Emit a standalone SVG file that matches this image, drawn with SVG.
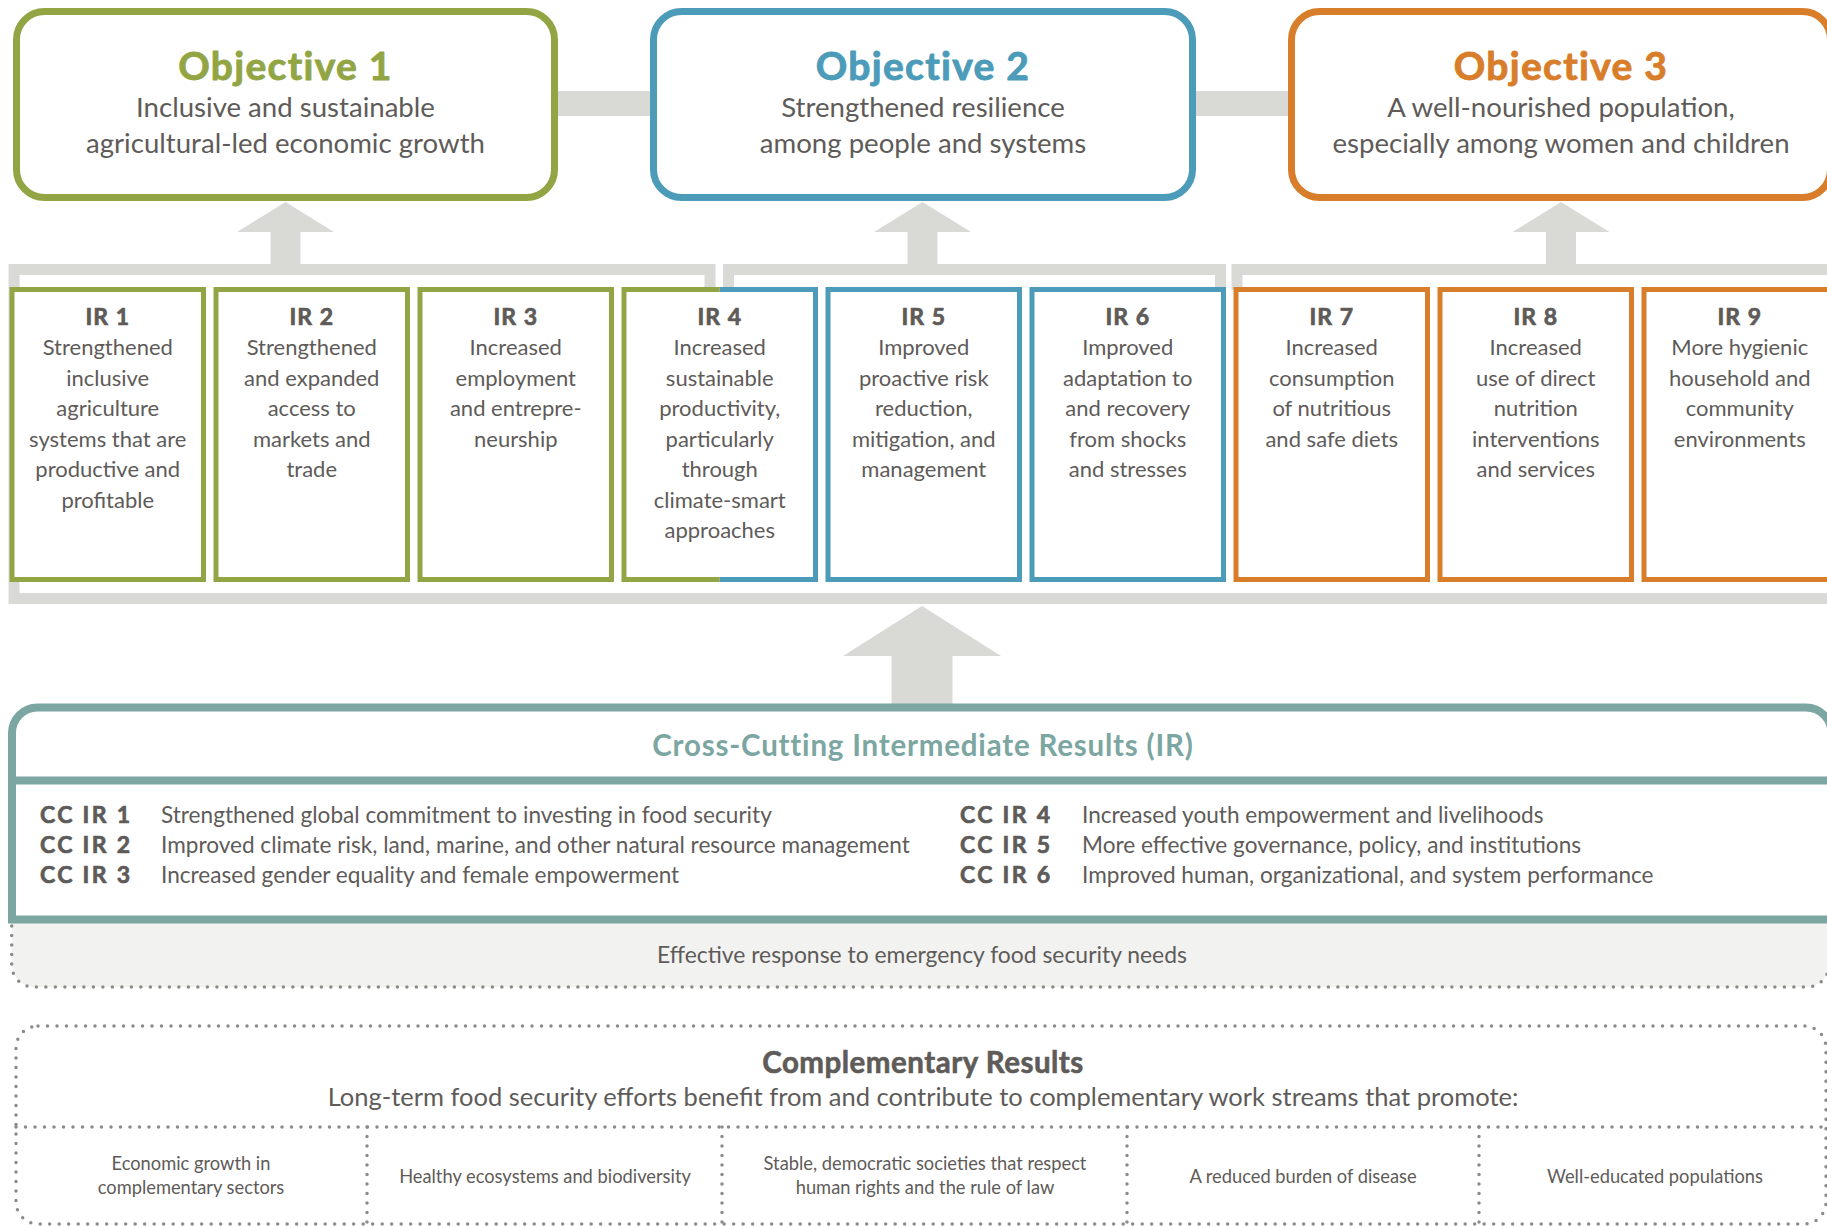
<svg xmlns="http://www.w3.org/2000/svg" width="1827" height="1227" viewBox="0 0 1827 1227">
<style>
  text { font-family: Lato, 'Open Sans', 'Liberation Sans', sans-serif; fill: #5e5b59; }
  .heavy { stroke-width: 0.7px; stroke-linejoin: round; }
  .objbox { fill: #ffffff; stroke-width: 7; }
  .objtitle { font-size: 39px; font-weight: 700; text-anchor: middle; letter-spacing: 1.3px; stroke-width: 0.9px; stroke-linejoin: round; }
  .objsub { font-size: 27.6px; text-anchor: middle; }
  .irbox { fill: #ffffff; stroke-width: 5; }
  .irhead { font-size: 23px; font-weight: 700; text-anchor: middle; letter-spacing: 1px; stroke: #5e5b59; }
  .irtxt { font-size: 22px; text-anchor: middle; }
  .green { stroke: #92a545; }
  .blue { stroke: #4b9bb9; }
  .orange { stroke: #d87e2b; }
  .tgreen { fill: #92a545; stroke: #92a545; }
  .tblue { fill: #4b9bb9; stroke: #4b9bb9; }
  .torange { fill: #d87e2b; stroke: #d87e2b; }
  .bracket { fill: none; stroke: #d9dad5; stroke-width: 11; stroke-linejoin: miter; }
  .garrow { fill: #d9dad5; }
  .teal { fill: none; stroke: #7ca6a1; stroke-width: 8; }
  .cclab { font-size: 23px; font-weight: 700; letter-spacing: 2.3px; stroke: #5e5b59; }
  .cctxt { font-size: 22.6px; }
  .dots { fill: none; stroke: #8d8b89; stroke-width: 3.5; stroke-linecap: round; stroke-dasharray: 0 9.5; }
  .cell { font-size: 18.3px; text-anchor: middle; }
</style>

<g id="connectors">
  <rect x="285" y="91" width="1276" height="25" class="garrow"/>
  <path class="bracket" d="M710,290 V269.5 H14 V598.5 H1835"/>
  <path class="bracket" d="M728.5,290 V269.5 H1220.5 V290"/>
  <path class="bracket" d="M1237,290 V269.5 H1835"/>
  <polygon class="garrow" points="285.5,202 334,232 300.5,232 300.5,266 270.5,266 270.5,232 237,232"/>
  <polygon class="garrow" points="922.5,202 971,232 937.5,232 937.5,266 907.5,266 907.5,232 874,232"/>
  <polygon class="garrow" points="1561,202 1609.5,232 1576,232 1576,266 1546,266 1546,232 1512.5,232"/>
  <polygon class="garrow" points="922,606 1001,656 952.5,656 952.5,705 891.5,705 891.5,656 843,656"/>
</g>

<g id="objective1">
  <rect class="objbox green" x="16.5" y="11.5" width="538" height="186" rx="28"/>
  <text class="objtitle tgreen" x="285.5" y="80">Objective 1</text>
  <text class="objsub" x="285.5" y="117">Inclusive and sustainable</text>
  <text class="objsub" x="285.5" y="153">agricultural-led economic growth</text>
</g>
<g id="objective2">
  <rect class="objbox blue" x="653.5" y="11.5" width="539" height="186" rx="28"/>
  <text class="objtitle tblue" x="923" y="80">Objective 2</text>
  <text class="objsub" x="923" y="117">Strengthened resilience</text>
  <text class="objsub" x="923" y="153">among people and systems</text>
</g>
<g id="objective3">
  <rect class="objbox orange" x="1291.5" y="11.5" width="539" height="186" rx="28"/>
  <text class="objtitle torange" x="1561" y="80">Objective 3</text>
  <text class="objsub" x="1561" y="117">A well-nourished population,</text>
  <text class="objsub" x="1561" y="153">especially among women and children</text>
</g>

<g id="ir1">
  <rect class="irbox green" x="12" y="289.5" width="191.5" height="290"/>
  <text class="irhead heavy" x="107.75" y="325">IR 1</text>
  <text class="irtxt" x="107.75" y="355">Strengthened</text>
  <text class="irtxt" x="107.75" y="385.5">inclusive</text>
  <text class="irtxt" x="107.75" y="416">agriculture</text>
  <text class="irtxt" x="107.75" y="446.5">systems that are</text>
  <text class="irtxt" x="107.75" y="477">productive and</text>
  <text class="irtxt" x="107.75" y="507.5">profitable</text>
</g>
<g id="ir2">
  <rect class="irbox green" x="216" y="289.5" width="191.5" height="290"/>
  <text class="irhead heavy" x="311.75" y="325">IR 2</text>
  <text class="irtxt" x="311.75" y="355">Strengthened</text>
  <text class="irtxt" x="311.75" y="385.5">and expanded</text>
  <text class="irtxt" x="311.75" y="416">access to</text>
  <text class="irtxt" x="311.75" y="446.5">markets and</text>
  <text class="irtxt" x="311.75" y="477">trade</text>
</g>
<g id="ir3">
  <rect class="irbox green" x="420" y="289.5" width="191.5" height="290"/>
  <text class="irhead heavy" x="515.75" y="325">IR 3</text>
  <text class="irtxt" x="515.75" y="355">Increased</text>
  <text class="irtxt" x="515.75" y="385.5">employment</text>
  <text class="irtxt" x="515.75" y="416">and entrepre-</text>
  <text class="irtxt" x="515.75" y="446.5">neurship</text>
</g>
<g id="ir4">
  <rect x="624" y="289.5" width="191.5" height="290" fill="#ffffff"/>
  <path class="green" fill="none" stroke-width="5" d="M719.75,289.5 H624 V579.5 H719.75"/>
  <path class="blue" fill="none" stroke-width="5" d="M719.75,289.5 H815.5 V579.5 H719.75"/>
  <text class="irhead heavy" x="719.75" y="325">IR 4</text>
  <text class="irtxt" x="719.75" y="355">Increased</text>
  <text class="irtxt" x="719.75" y="385.5">sustainable</text>
  <text class="irtxt" x="719.75" y="416">productivity,</text>
  <text class="irtxt" x="719.75" y="446.5">particularly</text>
  <text class="irtxt" x="719.75" y="477">through</text>
  <text class="irtxt" x="719.75" y="507.5">climate-smart</text>
  <text class="irtxt" x="719.75" y="538">approaches</text>
</g>
<g id="ir5">
  <rect class="irbox blue" x="828" y="289.5" width="191.5" height="290"/>
  <text class="irhead heavy" x="923.75" y="325">IR 5</text>
  <text class="irtxt" x="923.75" y="355">Improved</text>
  <text class="irtxt" x="923.75" y="385.5">proactive risk</text>
  <text class="irtxt" x="923.75" y="416">reduction,</text>
  <text class="irtxt" x="923.75" y="446.5">mitigation, and</text>
  <text class="irtxt" x="923.75" y="477">management</text>
</g>
<g id="ir6">
  <rect class="irbox blue" x="1032" y="289.5" width="191.5" height="290"/>
  <text class="irhead heavy" x="1127.75" y="325">IR 6</text>
  <text class="irtxt" x="1127.75" y="355">Improved</text>
  <text class="irtxt" x="1127.75" y="385.5">adaptation to</text>
  <text class="irtxt" x="1127.75" y="416">and recovery</text>
  <text class="irtxt" x="1127.75" y="446.5">from shocks</text>
  <text class="irtxt" x="1127.75" y="477">and stresses</text>
</g>
<g id="ir7">
  <rect class="irbox orange" x="1236" y="289.5" width="191.5" height="290"/>
  <text class="irhead heavy" x="1331.75" y="325">IR 7</text>
  <text class="irtxt" x="1331.75" y="355">Increased</text>
  <text class="irtxt" x="1331.75" y="385.5">consumption</text>
  <text class="irtxt" x="1331.75" y="416">of nutritious</text>
  <text class="irtxt" x="1331.75" y="446.5">and safe diets</text>
</g>
<g id="ir8">
  <rect class="irbox orange" x="1440" y="289.5" width="191.5" height="290"/>
  <text class="irhead heavy" x="1535.75" y="325">IR 8</text>
  <text class="irtxt" x="1535.75" y="355">Increased</text>
  <text class="irtxt" x="1535.75" y="385.5">use of direct</text>
  <text class="irtxt" x="1535.75" y="416">nutrition</text>
  <text class="irtxt" x="1535.75" y="446.5">interventions</text>
  <text class="irtxt" x="1535.75" y="477">and services</text>
</g>
<g id="ir9">
  <rect class="irbox orange" x="1644" y="289.5" width="191.5" height="290"/>
  <text class="irhead heavy" x="1739.75" y="325">IR 9</text>
  <text class="irtxt" x="1739.75" y="355">More hygienic</text>
  <text class="irtxt" x="1739.75" y="385.5">household and</text>
  <text class="irtxt" x="1739.75" y="416">community</text>
  <text class="irtxt" x="1739.75" y="446.5">environments</text>
</g>

<g id="emergency">
  <path fill="#f2f2f1" d="M12,923 V965 A22,22 0 0 0 34,987 H1807 A22,22 0 0 0 1829,965 V923 Z"/>
  <path class="dots" d="M11.7,926 V965 A22,22 0 0 0 33.7,987 H1807 A22,22 0 0 0 1829,965 V926"/>
  <text x="922" y="963" text-anchor="middle" font-size="22.9">Effective response to emergency food security needs</text>
</g>

<g id="crosscutting">
  <path class="teal" d="M12,919.5 V733 A25.5,25.5 0 0 1 37.5,707.5 H1806 A25.5,25.5 0 0 1 1831.5,733 V919.5"/>
  <line class="teal" x1="8" y1="780.5" x2="1835" y2="780.5"/>
  <line class="teal" x1="8" y1="919.5" x2="1835" y2="919.5"/>
  <text x="923" y="756" text-anchor="middle" font-size="29.5" font-weight="700" letter-spacing="0.8" style="fill:#7ca6a1">Cross-Cutting Intermediate Results (IR)</text>
  <text class="cclab heavy" x="40" y="823">CC IR 1</text>
  <text class="cctxt" x="161" y="823">Strengthened global commitment to investing in food security</text>
  <text class="cclab heavy" x="40" y="853">CC IR 2</text>
  <text class="cctxt" x="161" y="853">Improved climate risk, land, marine, and other natural resource management</text>
  <text class="cclab heavy" x="40" y="883">CC IR 3</text>
  <text class="cctxt" x="161" y="883">Increased gender equality and female empowerment</text>
  <text class="cclab heavy" x="960" y="823">CC IR 4</text>
  <text class="cctxt" x="1082" y="823">Increased youth empowerment and livelihoods</text>
  <text class="cclab heavy" x="960" y="853">CC IR 5</text>
  <text class="cctxt" x="1082" y="853">More effective governance, policy, and institutions</text>
  <text class="cclab heavy" x="960" y="883">CC IR 6</text>
  <text class="cctxt" x="1082" y="883">Improved human, organizational, and system performance</text>
</g>

<g id="complementary">
  <rect class="dots" x="16" y="1026" width="1810" height="198" rx="22"/>
  <line class="dots" x1="16" y1="1127" x2="1826" y2="1127"/>
  <line class="dots" x1="367" y1="1127" x2="367" y2="1224"/>
  <line class="dots" x1="722" y1="1127" x2="722" y2="1224"/>
  <line class="dots" x1="1127" y1="1127" x2="1127" y2="1224"/>
  <line class="dots" x1="1479" y1="1127" x2="1479" y2="1224"/>
  <text x="923" y="1073" text-anchor="middle" font-size="29.5" font-weight="700" letter-spacing="0.5" stroke="#5e5b59" stroke-width="0.6">Complementary Results</text>
  <text x="923" y="1106" text-anchor="middle" font-size="25.5">Long-term food security efforts benefit from and contribute to complementary work streams that promote:</text>
  <text class="cell" x="191" y="1170">Economic growth in</text>
  <text class="cell" x="191" y="1194">complementary sectors</text>
  <text class="cell" x="545" y="1183">Healthy ecosystems and biodiversity</text>
  <text class="cell" x="925" y="1170">Stable, democratic societies that respect</text>
  <text class="cell" x="925" y="1194">human rights and the rule of law</text>
  <text class="cell" x="1303" y="1183">A reduced burden of disease</text>
  <text class="cell" x="1655" y="1183">Well-educated populations</text>
</g>
</svg>
